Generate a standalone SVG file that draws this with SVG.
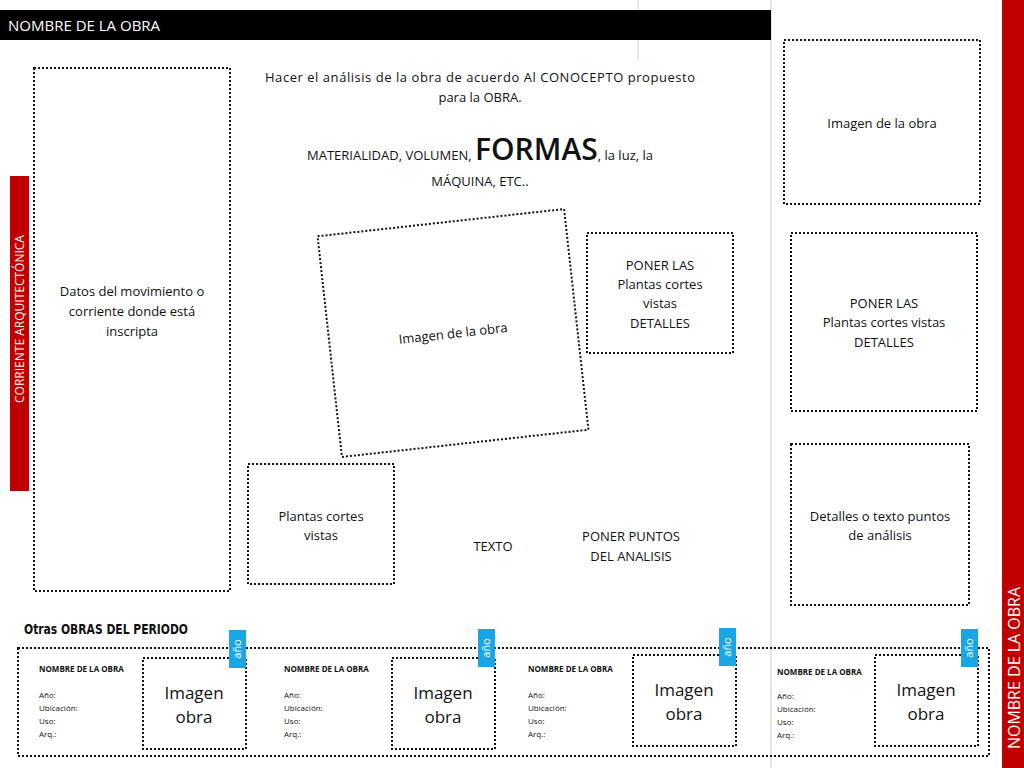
<svg xmlns="http://www.w3.org/2000/svg" width="1024" height="768" viewBox="0 0 1024 768">
<style>
text{font-family:"Open Sans","Liberation Sans",sans-serif;fill:#111;font-size:13px;text-anchor:middle}
.b{fill:none;stroke:#111;stroke-width:2;stroke-dasharray:2 2}
.s{font-size:8px;text-anchor:start}
.s2{font-size:8px;text-anchor:start;font-weight:bold}
.im{font-size:17px}
.tab{fill:#1aa6e6}
.tt{fill:#fff;font-size:11px}
</style>
<rect width="1024" height="768" fill="#fff"/>
<line x1="638" y1="0" x2="638" y2="60" stroke="#ccc"/>
<line x1="771" y1="0" x2="771" y2="768" stroke="#ccc"/>
<rect x="1002" y="0" width="22" height="768" fill="#c00000"/>
<text transform="translate(1020,668) rotate(-90)" style="fill:#fff;font-size:16px">NOMBRE DE LA  OBRA</text>
<g id="header"><rect x="0" y="10" width="771" height="30" fill="#000"/><text x="8" y="31" style="fill:#fff;font-size:15px;text-anchor:start">NOMBRE DE LA OBRA</text></g>
<g id="corriente"><rect x="10" y="176" width="19" height="315" fill="#c00000"/><text transform="translate(24,319) rotate(-90)" style="fill:#fff;font-size:12px">CORRIENTE ARQUITECTÓNICA</text></g>
<g id="intro"><text x="480" y="82" textLength="430">Hacer el análisis de la obra de acuerdo Al CONOCEPTO propuesto</text><text x="480" y="102">para la OBRA.</text>
<text x="480" y="160">MATERIALIDAD, VOLUMEN, <tspan style="font-size:30px;font-weight:600">FORMAS</tspan>, la luz, la</text><text x="480" y="186">MÁQUINA, ETC..</text></g>
<g id="datos"><rect class="b" x="34" y="68" width="196" height="523"/><text x="132" y="296">Datos del movimiento o</text><text x="132" y="316">corriente donde está</text><text x="132" y="336">inscripta</text></g>
<g id="imgrot" transform="translate(453,333) rotate(-6.3)"><rect class="b" x="-124" y="-111" width="248" height="222"/><text x="0" y="5">Imagen de la obra</text></g>
<g id="poner1"><rect class="b" x="587" y="233" width="146" height="120"/><text x="660" y="270">PONER LAS</text><text x="660" y="289">Plantas cortes</text><text x="660" y="308">vistas</text><text x="660" y="328">DETALLES</text></g>
<g id="plantas"><rect class="b" x="248" y="464" width="146" height="120"/><text x="321" y="521">Plantas cortes</text><text x="321" y="540">vistas</text></g>
<g id="texto"><text x="493" y="551">TEXTO</text><text x="631" y="541">PONER PUNTOS</text><text x="631" y="561">DEL ANALISIS</text></g>
<g id="img2"><rect class="b" x="784" y="40" width="196" height="164"/><text x="882" y="128">Imagen de la obra</text></g>
<g id="poner2"><rect class="b" x="791" y="233" width="186" height="178"/><text x="884" y="308">PONER LAS</text><text x="884" y="327">Plantas cortes vistas</text><text x="884" y="347">DETALLES</text></g>
<g id="detalles"><rect class="b" x="791" y="444" width="178" height="161"/><text x="880" y="521">Detalles o texto puntos</text><text x="880" y="540">de análisis</text></g>
<text x="24" y="634" textLength="164" lengthAdjust="spacingAndGlyphs" style="font-family:'DejaVu Sans Condensed','Liberation Sans',sans-serif;font-weight:bold;font-size:14px;text-anchor:start">Otras OBRAS DEL PERIODO</text>
<g id="otras"><rect class="b" x="18" y="648" width="971" height="108"/>
<g id="o1"><text class="s2" x="39" y="672">NOMBRE DE LA OBRA</text><text class="s" x="39" y="698">Año:</text><text class="s" x="39" y="711">Ubicación:</text><text class="s" x="39" y="724">Uso:</text><text class="s" x="39" y="737">Arq.:</text><rect class="b" x="143" y="658" width="103" height="91"/><text class="im" x="194" y="699">Imagen</text><text class="im" x="194" y="723">obra</text><rect class="tab" x="229" y="630" width="17" height="38"/><text class="tt" transform="translate(241,649) rotate(-90)">año</text></g>
<g id="o2"><text class="s2" x="284" y="672">NOMBRE DE LA OBRA</text><text class="s" x="284" y="698">Año:</text><text class="s" x="284" y="711">Ubicación:</text><text class="s" x="284" y="724">Uso:</text><text class="s" x="284" y="737">Arq.:</text><rect class="b" x="392" y="658" width="103" height="91"/><text class="im" x="443" y="699">Imagen</text><text class="im" x="443" y="723">obra</text><rect class="tab" x="478" y="629" width="17" height="38"/><text class="tt" transform="translate(490,648) rotate(-90)">año</text></g>
<g id="o3"><text class="s2" x="528" y="672">NOMBRE DE LA OBRA</text><text class="s" x="528" y="698">Año:</text><text class="s" x="528" y="711">Ubicación:</text><text class="s" x="528" y="724">Uso:</text><text class="s" x="528" y="737">Arq.:</text><rect class="b" x="633" y="655" width="103" height="91"/><text class="im" x="684" y="696">Imagen</text><text class="im" x="684" y="720">obra</text><rect class="tab" x="719" y="628" width="17" height="38"/><text class="tt" transform="translate(731,647) rotate(-90)">año</text></g>
<g id="o4"><text class="s2" x="777" y="675">NOMBRE DE LA OBRA</text><text class="s" x="777" y="699">Año:</text><text class="s" x="777" y="712">Ubicación:</text><text class="s" x="777" y="725">Uso:</text><text class="s" x="777" y="738">Arq.:</text><rect class="b" x="875" y="655" width="103" height="91"/><text class="im" x="926" y="696">Imagen</text><text class="im" x="926" y="720">obra</text><rect class="tab" x="961" y="629" width="17" height="38"/><text class="tt" transform="translate(973,648) rotate(-90)">año</text></g>
</g>
</svg>
